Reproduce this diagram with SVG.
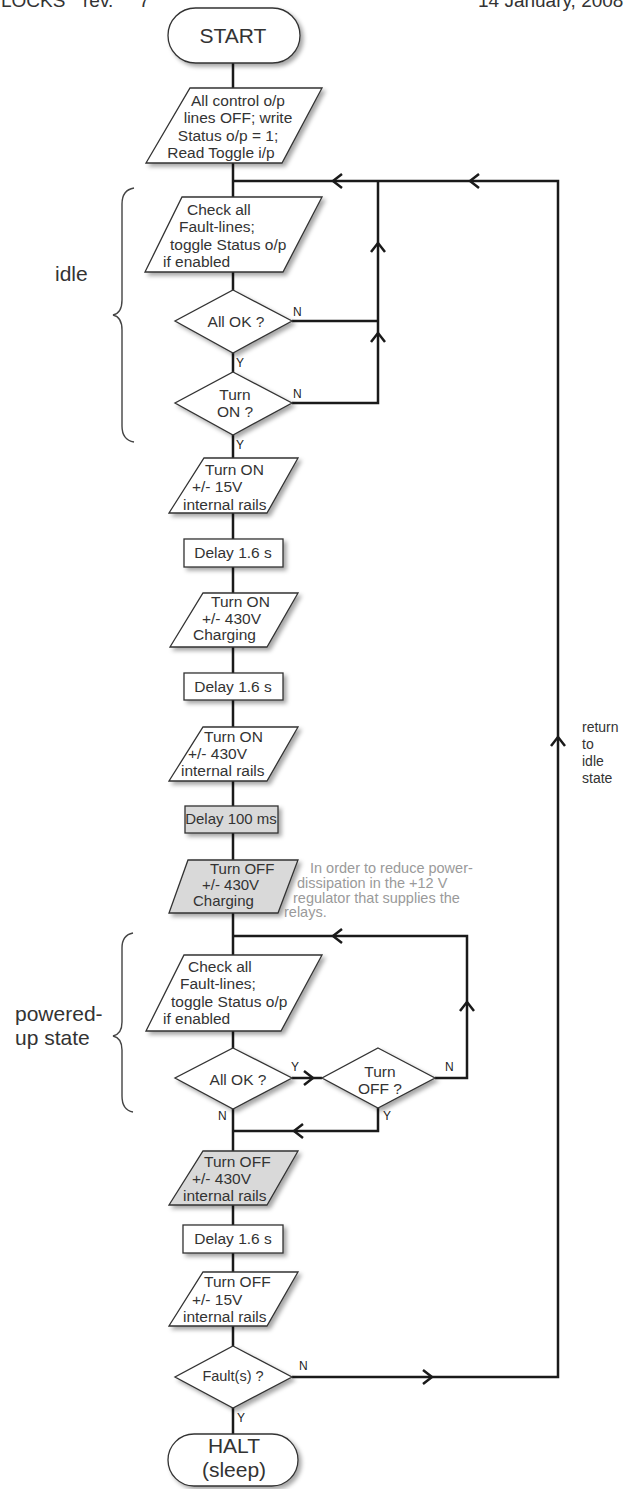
<svg xmlns="http://www.w3.org/2000/svg" width="626" height="1489" viewBox="0 0 626 1489">
  <style>
    text { font-family: "Liberation Sans", Arial, sans-serif; fill: #333; }
    .n { font-size: 15.5px; }
    .c { text-anchor: middle; }
    .big { font-size: 21px; }
    .lbl { font-size: 12px; fill: #222; }
    .note { font-size: 14.5px; fill: #9a9a9a; }
    .side { font-size: 14px; }
    .hdr { font-size: 19px; }
    .shape { fill: #fff; stroke: #333; stroke-width: 1.3; filter: url(#sh); }
    .grey { fill: #d9d9d9; }
    .wire { fill: none; stroke: #1a1a1a; stroke-width: 2.5; stroke-linejoin: miter; }
    .brace { fill: none; stroke: #444; stroke-width: 1.4; }
  </style>
  <defs>
    <filter id="sh" x="-20%" y="-20%" width="150%" height="170%">
      <feDropShadow dx="3" dy="3" stdDeviation="2" flood-color="#000" flood-opacity="0.35"/>
    </filter>
    <!-- open chevron arrowhead, pointing along +x, tip at origin -->
    <path id="chev" d="M-9,-7 L0,0 L-9,7" fill="none" stroke="#1a1a1a" stroke-width="2.5"/>
  </defs>

  <rect width="626" height="1489" fill="#fff"/>

  <!-- page header -->
  <g id="header">
    <text class="hdr" x="1" y="7">LOCKS</text>
    <text class="hdr" x="83" y="7">rev.<tspan x="139">7</tspan></text>
    <text class="hdr" x="478" y="7">14 January, 2008</text>
  </g>

  <!-- connectors -->
  <g id="connectors">
    <path class="wire" d="M233,63 V1434"/>
    <path class="wire" d="M292,1377 H558 V181 H233"/>
    <path class="wire" d="M292,321 H378"/>
    <path class="wire" d="M292,403 H378 V181"/>
    <path class="wire" d="M292,1078 H322"/>
    <path class="wire" d="M435,1078 H467 V936 H233"/>
    <path class="wire" d="M378,1108 V1131 H233"/>
    <use href="#chev" transform="translate(333,181) rotate(180)"/>
    <use href="#chev" transform="translate(470,181) rotate(180)"/>
    <use href="#chev" transform="translate(378,243) rotate(-90)"/>
    <use href="#chev" transform="translate(378,333) rotate(-90)"/>
    <use href="#chev" transform="translate(558,737) rotate(-90)"/>
    <use href="#chev" transform="translate(432,1377)"/>
    <use href="#chev" transform="translate(333,936) rotate(180)"/>
    <use href="#chev" transform="translate(467,1002) rotate(-90)"/>
    <use href="#chev" transform="translate(313,1078)"/>
    <use href="#chev" transform="translate(294,1131) rotate(180)"/>
    <text class="lbl" x="293" y="316">N</text>
    <text class="lbl" x="236" y="367">Y</text>
    <text class="lbl" x="293" y="398">N</text>
    <text class="lbl" x="236" y="449">Y</text>
    <text class="lbl" x="291" y="1071">Y</text>
    <text class="lbl" x="445" y="1071">N</text>
    <text class="lbl" x="383" y="1120">Y</text>
    <text class="lbl" x="218" y="1120">N</text>
    <text class="lbl" x="299" y="1370">N</text>
    <text class="lbl" x="237" y="1422">Y</text>
  </g>

  <g id="start">
    <rect class="shape" x="168" y="8" width="132" height="55" rx="27.5"/>
    <text class="big c" x="233" y="43">START</text>
  </g>

  <g id="init">
    <polygon class="shape" points="190,88 322,88 282,163 146,163"/>
    <text class="n c" x="238" y="106">All control o/p</text>
    <text class="n c" x="238" y="123">lines OFF; write</text>
    <text class="n c" x="228" y="141">Status o/p = 1;</text>
    <text class="n c" x="221" y="158">Read Toggle i/p</text>
  </g>

  <g id="idle-check">
    <polygon class="shape" points="182,197 322,197 283,272 145,272"/>
    <text class="n" x="187" y="215">Check all</text>
    <text class="n" x="179" y="232">Fault-lines;</text>
    <text class="n" x="170" y="250">toggle Status o/p</text>
    <text class="n" x="163" y="267">if enabled</text>
  </g>

  <g id="idle-allok">
    <polygon class="shape" points="233,290 292,321 233,353 175,321"/>
    <text class="n c" x="236" y="327">All OK ?</text>
  </g>

  <g id="turn-on-q">
    <polygon class="shape" points="233,372 292,403 233,435 175,403"/>
    <text class="n c" x="235" y="400">Turn</text>
    <text class="n c" x="235" y="417">ON ?</text>
  </g>

  <g id="on-15v">
    <polygon class="shape" points="204,458 298,458 267,513 169,513"/>
    <text class="n" x="205" y="475">Turn ON</text>
    <text class="n" x="192" y="492">+/- 15V</text>
    <text class="n" x="183" y="510">internal rails</text>
  </g>

  <g id="delay-1">
    <rect class="shape" x="184" y="539" width="99" height="28"/>
    <text class="n c" x="233" y="558">Delay 1.6 s</text>
  </g>

  <g id="on-430-charging">
    <polygon class="shape" points="203,593 298,593 267,647 170,647"/>
    <text class="n" x="211" y="607">Turn ON</text>
    <text class="n" x="202" y="624">+/- 430V</text>
    <text class="n" x="193" y="640">Charging</text>
  </g>

  <g id="delay-2">
    <rect class="shape" x="184" y="673" width="99" height="27"/>
    <text class="n c" x="233" y="692">Delay 1.6 s</text>
  </g>

  <g id="on-430-rails">
    <polygon class="shape" points="203,727 298,727 267,781 169,781"/>
    <text class="n" x="204" y="742">Turn ON</text>
    <text class="n" x="188" y="759">+/- 430V</text>
    <text class="n" x="181" y="776">internal rails</text>
  </g>

  <g id="delay-100">
    <rect class="shape grey" x="185" y="806" width="93" height="27"/>
    <text class="n c" x="231" y="824" style="font-size:15px">Delay 100 ms</text>
  </g>

  <g id="off-430-charging">
    <polygon class="shape grey" points="188,860 298,860 278,913 169,913"/>
    <text class="n" x="210" y="874" style="font-size:15px">Turn OFF</text>
    <text class="n" x="202" y="890" style="font-size:15px">+/- 430V</text>
    <text class="n" x="193" y="906" style="font-size:15px">Charging</text>
  </g>

  <g id="note">
    <text class="note" x="310" y="873">In order to reduce power-</text>
    <text class="note" x="297" y="888">dissipation in the +12 V</text>
    <text class="note" x="293" y="903">regulator that supplies the</text>
    <text class="note" x="284" y="917">relays.</text>
  </g>

  <g id="powered-check">
    <polygon class="shape" points="184,955 322,955 281,1031 146,1031"/>
    <text class="n" x="188" y="972">Check all</text>
    <text class="n" x="180" y="989">Fault-lines;</text>
    <text class="n" x="171" y="1007">toggle Status o/p</text>
    <text class="n" x="163" y="1024">if enabled</text>
  </g>

  <g id="powered-allok">
    <polygon class="shape" points="233,1048 292,1078 233,1109 175,1078"/>
    <text class="n c" x="238" y="1085">All OK ?</text>
  </g>

  <g id="turn-off-q">
    <polygon class="shape" points="378,1048 435,1078 378,1108 322,1078"/>
    <text class="n c" x="380" y="1077">Turn</text>
    <text class="n c" x="380" y="1094">OFF ?</text>
  </g>

  <g id="off-430-rails">
    <polygon class="shape grey" points="203,1151 298,1151 267,1205 169,1205"/>
    <text class="n" x="204" y="1167">Turn OFF</text>
    <text class="n" x="192" y="1184">+/- 430V</text>
    <text class="n" x="183" y="1201">internal rails</text>
  </g>

  <g id="delay-3">
    <rect class="shape" x="183" y="1225" width="100" height="28"/>
    <text class="n c" x="233" y="1244">Delay 1.6 s</text>
  </g>

  <g id="off-15v">
    <polygon class="shape" points="203,1272 298,1272 267,1326 169,1326"/>
    <text class="n" x="204" y="1287">Turn OFF</text>
    <text class="n" x="192" y="1305">+/- 15V</text>
    <text class="n" x="183" y="1322">internal rails</text>
  </g>

  <g id="faults-q">
    <polygon class="shape" points="233,1346 292,1377 233,1408 175,1377"/>
    <text class="n c" x="233" y="1381" style="font-size:14.5px">Fault(s) ?</text>
  </g>

  <g id="halt">
    <rect class="shape" x="168" y="1434" width="130" height="52" rx="26"/>
    <text class="big c" x="234" y="1453">HALT</text>
    <text class="big c" x="234" y="1477">(sleep)</text>
  </g>

  <g id="return-note">
    <text class="side" x="582" y="732">return</text>
    <text class="side" x="582" y="749">to</text>
    <text class="side" x="582" y="766">idle</text>
    <text class="side" x="582" y="783">state</text>
  </g>

  <g id="idle-brace">
    <path class="brace" d="M134,188 Q122,190 122,204 V300 Q122,313 113,315 Q122,317 122,330 V426 Q122,440 134,442"/>
    <text class="big" x="55" y="281">idle</text>
  </g>

  <g id="powered-brace">
    <path class="brace" d="M133,933 Q122,935 122,948 V1022 Q122,1034 113,1036 Q122,1038 122,1050 V1096 Q122,1110 133,1112"/>
    <text class="big" x="15" y="1021">powered-</text>
    <text class="big" x="15" y="1045">up state</text>
  </g>
</svg>
